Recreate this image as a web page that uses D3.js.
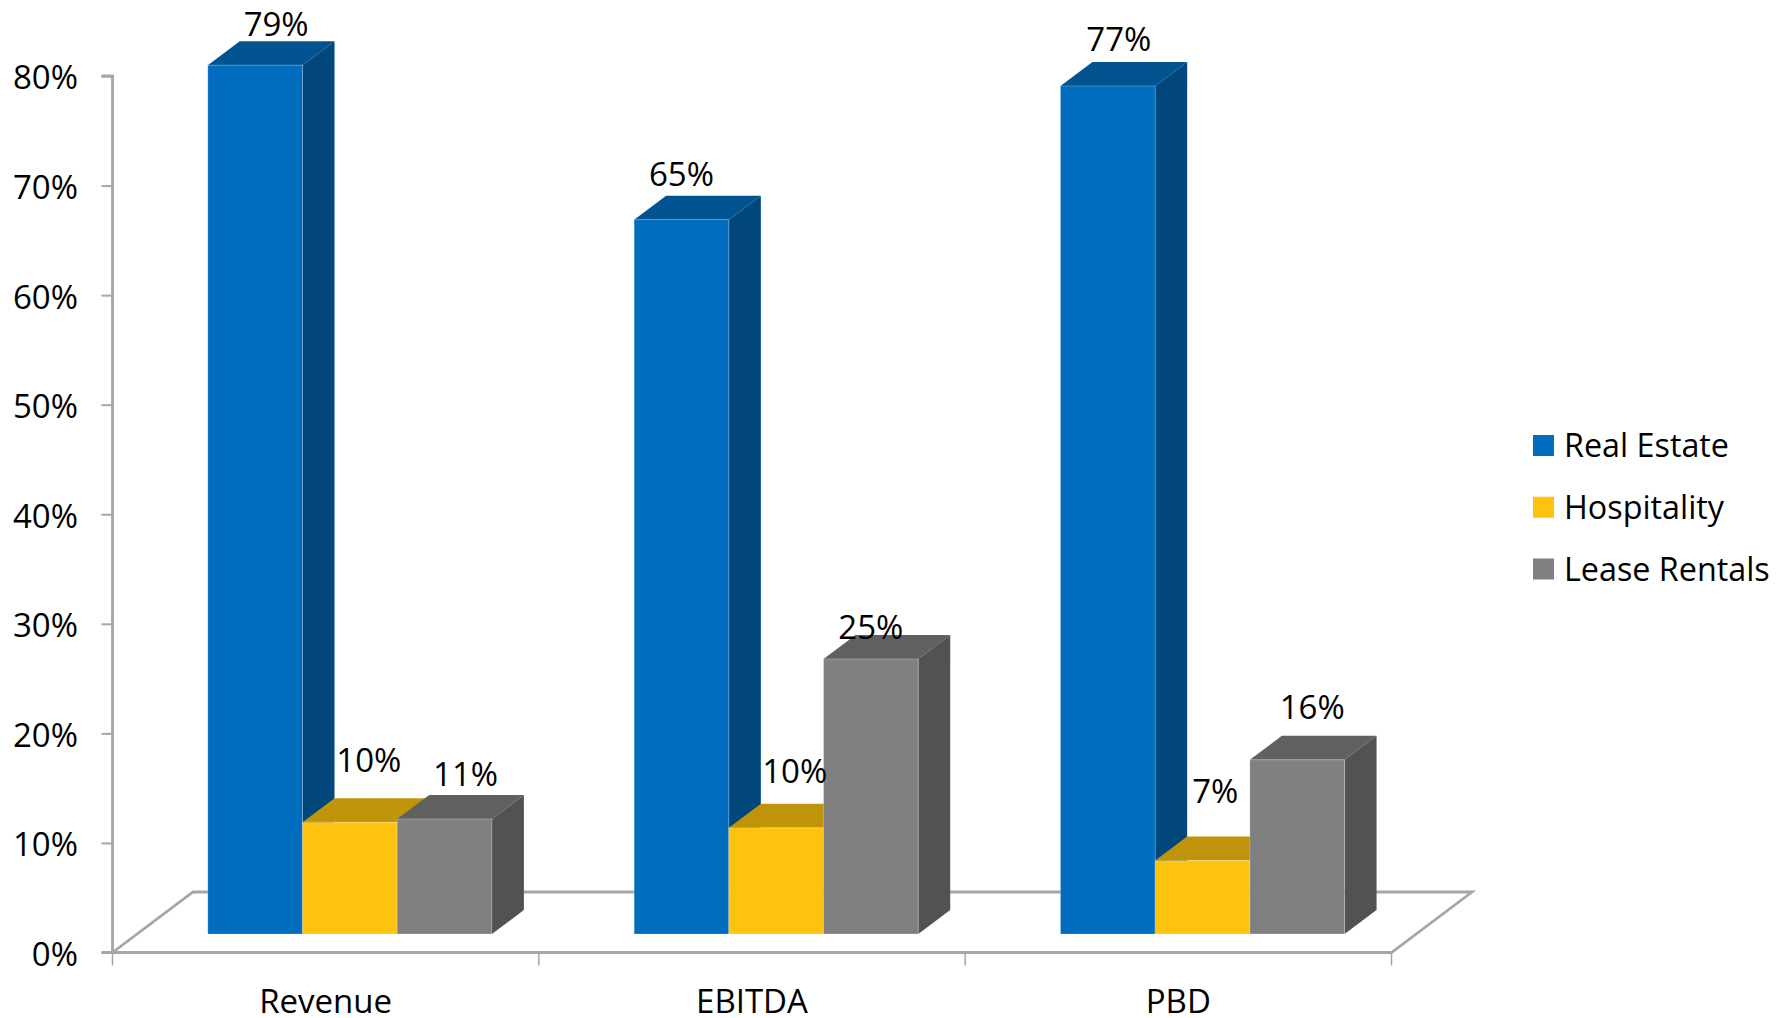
<!DOCTYPE html>
<html><head><meta charset="utf-8">
<script src="https://cdn.jsdelivr.net/npm/d3@7/dist/d3.min.js"></script>
<style>html,body{margin:0;background:#fff}svg{display:block}text{font-family:"Open Sans",sans-serif;fill:#000}</style>
</head><body><svg id="c" width="1789" height="1018"></svg>
<script>
const categories = ["Revenue","EBITDA","PBD"];
const seriesNames = ["Real Estate","Hospitality","Lease Rentals"];
const seriesColors = ["#016dbf","#ffc30f","#808080"];
const topColors = ["#01548f","#c09409","#606060"];
const sideColors = ["#01477c","#a07c08","#525252"];
const tickValues = [0,10,20,30,40,50,60,70,80];
// bar values as read against the axis
const realEstate = [79.3,65.2,77.4];
const hospitality = [10.2,9.7,6.7];
const leaseRentals = [10.5,25.1,15.9];
const values = [realEstate,hospitality,leaseRentals];

// label displacement from each bar's front-top centre [dx, baseline dy]
const nudges = [
 [[21,-29.5],[0,-34],[11,-34.7]],
 [[19,-50],[18.5,-45],[12.7,-58]],
 [[21,-33],[0,-20],[15,-41]]
];
const FS = 33;
const svg = d3.select("#c");
const y = d3.scaleLinear().domain([0,80]).range([952.5,76]);
const x = d3.scaleBand().domain(categories).range([112.5,1391.5]);
const dx = 32, dy = 24, baseLift = 18.5, barInset = 95.3;
const axisColor = "#a6a6a6";

// floor
const fl = [[x.range()[0],y(0)],[x.range()[0]+80.5,y(0)-60.5],[x.range()[1]+80.5,y(0)-60.5],[x.range()[1],y(0)],[x.range()[0],y(0)]];
svg.append("path").attr("d",d3.line()(fl)).attr("fill","none").attr("stroke",axisColor).attr("stroke-width",2.8);

// axes
const gy = svg.append("g").attr("transform",`translate(${x.range()[0]},0)`)
 .call(d3.axisLeft(y).tickValues(tickValues).tickFormat(d=>d+"%").tickSize(11).tickPadding(23.5));
gy.selectAll("path,line").attr("stroke",axisColor).attr("stroke-width",2);
gy.select("path").attr("d",`M-11,${y(80)}H0V${y(0)}H-11`).attr("stroke-width",2.8);
gy.selectAll("text").attr("font-size",FS).attr("dy","0.39em").style("font-family",'"Open Sans"');
const bw = 94.7;
const groupLeft = i => x(categories[i]) + barInset;
const bg = svg.append("g");
categories.forEach((c,i)=>{
  [0,1,2].forEach(s=>{
    const v = values[s][i];
    const x0 = groupLeft(i)+s*bw, x1 = x0+bw;
    const yb = y(0)-baseLift, yt = yb-(y(0)-y(v));
    const g = bg.append("g");
    g.append("path").attr("fill",topColors[s]).attr("d",d3.line()([[x0,yt],[x0+dx,yt-dy],[x1+dx,yt-dy],[x1,yt]]));
    g.append("path").attr("fill",sideColors[s]).attr("d",d3.line()([[x1,yt],[x1+dx,yt-dy],[x1+dx,yb-dy],[x1,yb]]));
    g.append("rect").attr("x",x0).attr("y",yt).attr("width",bw).attr("height",yb-yt).attr("fill",seriesColors[s])
      .attr("stroke","#fff").attr("stroke-opacity",0.25).attr("stroke-width",1);
  });
});
// x ticks
const tg = svg.append("g");
const tickXs = [x.range()[0],...categories.map(c=>x(c)+x.bandwidth())];
tg.selectAll("line").data(tickXs).join("line").attr("x1",d=>d).attr("x2",d=>d).attr("y1",y(0)).attr("y2",y(0)+13).attr("stroke",axisColor).attr("stroke-width",1.5);
// category labels
svg.append("g").selectAll("text").data(categories).join("text")
 .attr("x",(d)=>x(d)+x.bandwidth()/2).attr("y",1013).attr("text-anchor","middle").attr("font-size",FS).text(d=>d);
// data labels
categories.forEach((c,i)=>{
  [0,1,2].forEach(s=>{
    const x0 = groupLeft(i)+s*bw;
    const yt = y(0)-baseLift-(y(0)-y(values[s][i]));
    svg.append("text").attr("x",x0+bw/2+nudges[s][i][0]).attr("y",yt+nudges[s][i][1]).attr("text-anchor","middle").attr("font-size",FS).text(Math.round(values[s][i])+"%");
  });
});
// legend
const ly = d3.scalePoint().domain(seriesNames).range([445.5,569]);
const lg = svg.append("g").selectAll("g").data(seriesNames).join("g").attr("transform",d=>`translate(1533,${ly(d)})`);
lg.append("rect").attr("x",0).attr("y",-10.5).attr("width",21).attr("height",21).attr("fill",(d,i)=>seriesColors[i]);
lg.append("text").attr("x",31).attr("y",11.5).attr("font-size",32.3).text(d=>d);
</script></body></html>
